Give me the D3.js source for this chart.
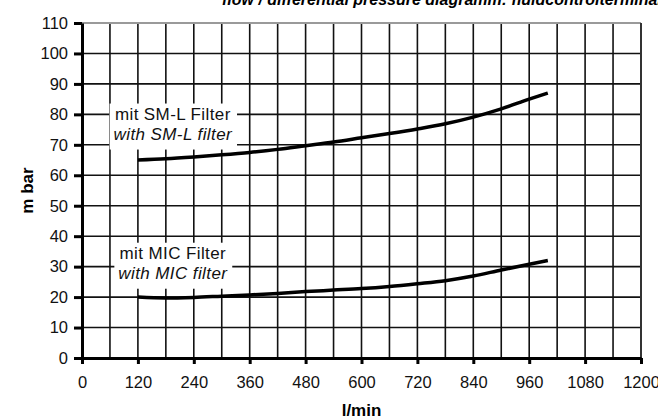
<!DOCTYPE html>
<html>
<head>
<meta charset="utf-8">
<script src="https://cdn.jsdelivr.net/npm/d3@7"></script>
<style>
  body { margin: 0; background: #fff; }
  svg { display: block; font-family: "Liberation Sans", Arial, sans-serif; }
</style>
</head>
<body>
<div class="chart"></div>
<script>
// flow (l/min) against pressure drop (m bar)
const flow = [120, 180, 240, 300, 360, 420, 480, 540, 600, 660, 720, 780, 840, 900, 960, 1000];
const smlFilter = [65.0, 65.4, 66.0, 66.7, 67.5, 68.5, 69.7, 70.9, 72.3, 73.7, 75.2, 76.9, 79.1, 81.8, 85.0, 87.0];
const micFilter = [20.0, 19.7, 19.9, 20.3, 20.7, 21.2, 21.8, 22.3, 22.8, 23.5, 24.4, 25.4, 26.9, 28.9, 30.8, 32.0];

const xTicks = [0, 120, 240, 360, 480, 600, 720, 840, 960, 1080, 1200];
const yTicks = [0, 10, 20, 30, 40, 50, 60, 70, 80, 90, 100, 110];
const xGrid = d3.range(0, 1201, 60);

const seriesLabels = [
    ["mit SM-L Filter", "with SM-L filter"],
    ["mit MIC Filter", "with MIC filter"]
];

const width = 658, height = 418;
const margin = { top: 23, right: 17, bottom: 60, left: 82 };
const fontFamily = "\"Liberation Sans\", Arial, sans-serif";

const svg = d3.select(".chart")
    .append("svg")
      .attr("width", width)
      .attr("height", height);

const x = d3.scaleLinear().domain([0, 1200]).range([margin.left, width - margin.right]);
const y = d3.scaleLinear().domain([0, 110]).range([height - margin.bottom, margin.top]);

// grid
svg.append("g")
    .selectAll("line")
    .data(xGrid)
    .join("line")
      .attr("x1", d => x(d)).attr("x2", d => x(d))
      .attr("y1", y(0)).attr("y2", y(110))
      .attr("stroke", "#111")
      .attr("stroke-width", 1.6);

svg.append("g")
    .selectAll("line")
    .data(yTicks)
    .join("line")
      .attr("x1", x(0)).attr("x2", x(1200))
      .attr("y1", d => y(d)).attr("y2", d => y(d))
      .attr("stroke", "#111")
      .attr("stroke-width", 1.6);

// plot frame (top is lighter)
svg.append("line")
    .attr("x1", x(0)).attr("x2", x(1200))
    .attr("y1", y(110)).attr("y2", y(110))
    .attr("stroke", "#9a9a9a").attr("stroke-width", 2);
svg.append("line")
    .attr("x1", x(1200)).attr("x2", x(1200))
    .attr("y1", y(110)).attr("y2", y(0))
    .attr("stroke", "#333").attr("stroke-width", 2);

// axes
const yAxis = svg.append("g")
    .attr("transform", `translate(${x(0)},0)`)
    .call(d3.axisLeft(y).tickValues(yTicks).tickSize(8).tickPadding(6).tickSizeOuter(0));

const xAxis = svg.append("g")
    .attr("transform", `translate(0,${y(0)})`)
    .call(d3.axisBottom(x).tickValues(xTicks).tickFormat(d3.format("d"))
        .tickSize(6).tickPadding(12).tickSizeOuter(0));

[xAxis, yAxis].forEach(g => {
    g.attr("font-family", null).attr("font-size", null);
    g.select(".domain").attr("stroke", "#000").attr("stroke-width", 3);
    g.selectAll(".tick line").attr("stroke", "#000").attr("stroke-width", 3);
    g.selectAll(".tick text")
        .attr("fill", "#111")
        .style("font-size", "16.5px")
        .style("font-family", fontFamily);
});

// curves
const line = d3.line()
    .x(d => x(d[0]))
    .y(d => y(d[1]))
    .curve(d3.curveMonotoneX);

const series = [smlFilter, micFilter];

svg.append("g")
    .selectAll("path")
    .data(series)
    .join("path")
      .attr("d", vals => line(flow.map((f, i) => [f, vals[i]])))
      .attr("fill", "none")
      .attr("stroke", "#000")
      .attr("stroke-width", 3.5);

// series labels with white boxes
const labelAnchor = [[195, 78.3], [195, 32.6]];

seriesLabels.forEach((lines, k) => {
    const g = svg.append("g");
    const box = g.append("rect").attr("fill", "#fff");
    const t = g.append("text")
        .attr("text-anchor", "middle")
        .style("font-size", "17px")
        .style("letter-spacing", "0.4px")
        .attr("fill", "#111");
    lines.forEach((s, j) => {
        t.append("tspan")
            .attr("x", x(labelAnchor[k][0]))
            .attr("y", y(labelAnchor[k][1]) + j * 20)
            .style("font-style", j === 1 ? "italic" : "normal")
            .text(s);
    });
    const bb = t.node().getBBox();
    box.attr("x", bb.x - 4)
       .attr("y", bb.y - 1)
       .attr("width", bb.width + 8)
       .attr("height", bb.height + 7);
});

// axis titles
svg.append("text")
    .attr("transform", `translate(33,${(y(0) + y(110)) / 2}) rotate(-90)`)
    .attr("text-anchor", "middle")
    .style("font-size", "17px")
    .style("font-weight", "bold")
    .text("m bar");

svg.append("text")
    .attr("x", (x(0) + x(1200)) / 2)
    .attr("y", 416)
    .attr("text-anchor", "middle")
    .style("font-size", "17px")
    .style("font-weight", "bold")
    .text("l/min");

// chart title, cut by the top edge
svg.append("text")
    .attr("x", 222)
    .attr("y", 5)
    .style("font-size", "16px")
    .style("font-weight", "bold")
    .style("font-style", "italic")
    .text("flow / differential pressure diagramm: fluidcontrolterminal");
</script>
</body>
</html>
